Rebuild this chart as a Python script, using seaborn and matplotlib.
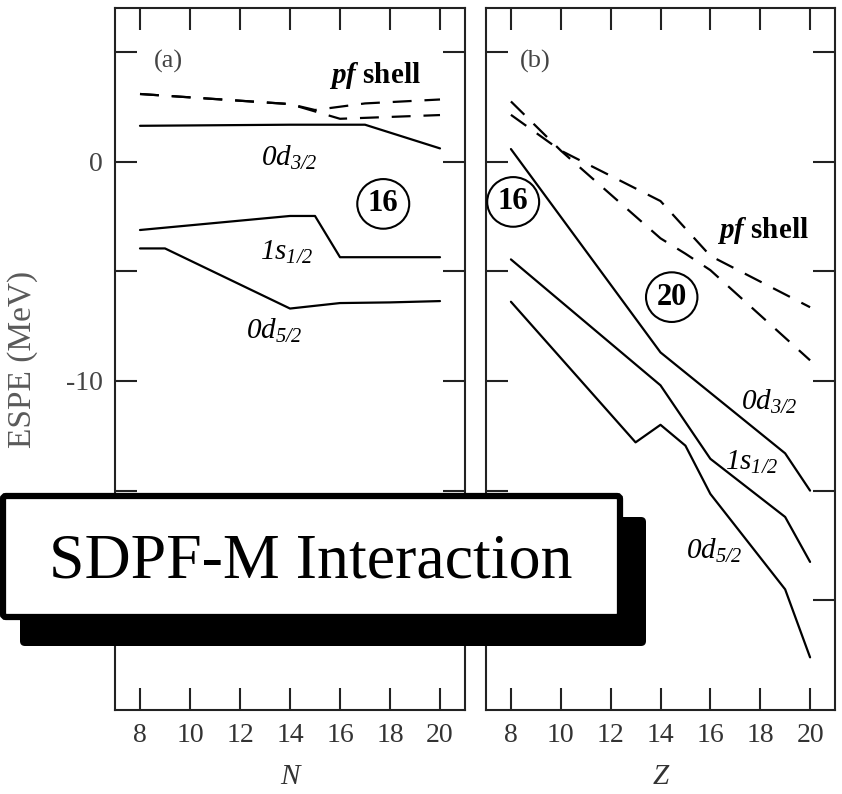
import matplotlib
matplotlib.use("Agg")
import matplotlib.pyplot as plt
import seaborn as sns
import pandas as pd
from matplotlib.patches import FancyBboxPatch

# ---------------- data ----------------
# Panel (a): ESPE vs neutron number N
a_d32_N = [8, 14, 17, 20]
a_d32_E = [1.63, 1.68, 1.68, 0.60]
a_s12_N = [8, 14, 15, 16, 20]
a_s12_E = [-3.12, -2.48, -2.48, -4.36, -4.36]
a_d52_N = [8, 9, 14, 16, 18, 20]
a_d52_E = [-3.96, -3.96, -6.70, -6.45, -6.42, -6.36]
a_pf1_N = [8, 14, 15, 17, 20]
a_pf1_E = [3.08, 2.62, 2.35, 2.65, 2.83]
a_pf2_N = [8, 14, 16, 20]
a_pf2_E = [3.08, 2.62, 1.95, 2.12]

# Panel (b): ESPE vs proton number Z
b_d32_Z = [8, 14, 19, 20]
b_d32_E = [0.57, -8.70, -13.30, -15.00]
b_s12_Z = [8, 14, 16, 19, 20]
b_s12_E = [-4.46, -10.20, -13.55, -16.20, -18.25]
b_d52_Z = [8, 13, 14, 15, 16, 19, 20]
b_d52_E = [-6.39, -12.80, -12.00, -12.95, -15.15, -19.50, -22.60]
b_pf1_Z = [8, 10, 14, 15, 16, 20]
b_pf1_E = [2.74, 0.50, -3.50, -4.20, -4.95, -9.06]
b_pf2_Z = [8, 10, 14, 16, 20]
b_pf2_E = [2.13, 0.50, -1.80, -4.30, -6.64]

x_ticks = [8, 10, 12, 14, 16, 18, 20]
y_major = [-20, -10, 0]
y_minor = [-15, -5, 5]


def build(series):
    rows = []
    for name, kind, xs, es in series:
        for x, e in zip(xs, es):
            rows.append({"x": x, "E": e, "orbital": name, "kind": kind})
    return pd.DataFrame(rows)


df_a = build([
    ("0d3/2", "sd", a_d32_N, a_d32_E),
    ("1s1/2", "sd", a_s12_N, a_s12_E),
    ("0d5/2", "sd", a_d52_N, a_d52_E),
    ("pf1", "pf", a_pf1_N, a_pf1_E),
    ("pf2", "pf", a_pf2_N, a_pf2_E),
])
df_b = build([
    ("0d3/2", "sd", b_d32_Z, b_d32_E),
    ("1s1/2", "sd", b_s12_Z, b_s12_E),
    ("0d5/2", "sd", b_d52_Z, b_d52_E),
    ("pf1", "pf", b_pf1_Z, b_pf1_E),
    ("pf2", "pf", b_pf2_Z, b_pf2_E),
])

# ---------------- style ----------------
sns.set_theme(style="ticks")
plt.rcParams["font.family"] = ["Liberation Serif", "DejaVu Serif"]
plt.rcParams["mathtext.fontset"] = "custom"
plt.rcParams["mathtext.rm"] = "Liberation Serif:italic"
plt.rcParams["mathtext.it"] = "Liberation Serif:italic"
plt.rcParams["mathtext.bf"] = "Liberation Serif:bold"
plt.rcParams["mathtext.bfit"] = "Liberation Serif:italic:bold"

fig = plt.figure(figsize=(8.42, 7.94), dpi=100)
ax_a = fig.add_axes([115 / 842, 1 - 710 / 794, 350 / 842, 702 / 794])
ax_b = fig.add_axes([486 / 842, 1 - 710 / 794, 349 / 842, 702 / 794])

for ax, df in ((ax_a, df_a), (ax_b, df_b)):
    sns.lineplot(data=df, x="x", y="E", units="orbital", estimator=None,
                 style="kind", dashes={"sd": "", "pf": (8.5, 5.8)},
                 color="black", linewidth=1.6, legend=False, ax=ax)
    ax.set_xlim(7, 21)
    ax.set_ylim(-25, 7)
    ax.set_xticks(x_ticks)
    ax.set_yticks(y_major)
    ax.set_yticks(y_minor, minor=True)
    ax.tick_params(axis="both", which="both", direction="in", length=16,
                   width=1.5, top=True, right=True, color="#222222")
    ax.tick_params(axis="x", labelsize=20, pad=9, labelcolor="#333333")
    ax.tick_params(axis="y", labelsize=20, pad=9, labelcolor="#444444")
    for s in ax.spines.values():
        s.set_linewidth(1.5)
        s.set_color("#222222")
    ax.set_ylabel("")
    ax.set_facecolor("white")

ax_a.set_xticklabels([str(t) for t in x_ticks])
ax_b.set_xticklabels([str(t) for t in x_ticks])
ax_a.set_yticklabels([str(t) for t in y_major])
ax_b.tick_params(axis="y", labelleft=False)

ax_a.set_xlabel("N", fontsize=21, fontstyle="italic", color="#333333", labelpad=12)
ax_b.set_xlabel("Z", fontsize=21, fontstyle="italic", color="#333333", labelpad=12)
ax_a.set_ylabel("ESPE (MeV)", fontsize=24, color="#5a5a5a", labelpad=20)

# ---------------- annotations ----------------
lab = dict(ha="center", va="center", color="black")
circ = dict(boxstyle="ellipse,pad=0.1", fc="none", ec="black", lw=1.5)

ax_a.text(9.12, 4.55, "(a)", fontsize=19, color="#444444", ha="center", va="center")
ax_a.text(17.41, 3.91, r"$\mathbfit{pf}$ shell", fontsize=21, fontweight="bold", **lab)
ax_a.text(13.98, 0.17, r"$0d_{3/2}$", fontsize=21, **lab)
ax_a.text(17.73, -1.93, "16", fontsize=22, fontweight="bold", bbox=circ, **lab)
ax_a.text(13.86, -4.12, r"$1s_{1/2}$", fontsize=21, **lab)
ax_a.text(13.38, -7.73, r"$0d_{5/2}$", fontsize=21, **lab)

ax_b.text(8.97, 4.55, "(b)", fontsize=19, color="#444444", ha="center", va="center")
ax_b.text(18.09, -3.12, r"$\mathbfit{pf}$ shell", fontsize=21, fontweight="bold", **lab)
ax_b.text(8.09, -1.84, "16", fontsize=22, fontweight="bold", bbox=circ, **lab)
ax_b.text(14.45, -6.18, "20", fontsize=22, fontweight="bold", bbox=circ, **lab)
ax_b.text(18.37, -10.97, r"$0d_{3/2}$", fontsize=21, **lab)
ax_b.text(17.65, -13.71, r"$1s_{1/2}$", fontsize=21, **lab)
ax_b.text(16.17, -17.73, r"$0d_{5/2}$", fontsize=21, **lab)

# ---------------- "SDPF-M Interaction" banner ----------------
T = fig.dpi_scale_trans
shadow = FancyBboxPatch((0.20, 1.48), 6.26, 1.29,
                        boxstyle="round,pad=0,rounding_size=0.05",
                        fc="black", ec="none", transform=T, zorder=10)
box = FancyBboxPatch((0.03, 1.77), 6.17, 1.21,
                     boxstyle="round,pad=0,rounding_size=0.03",
                     fc="white", ec="black", lw=4.5, transform=T, zorder=11)
fig.patches.extend([shadow, box])
fig.text(311 / 842, 1 - 577 / 794, "SDPF-M Interaction", fontsize=46,
         ha="center", va="baseline", color="black", zorder=12)

fig.savefig("out.png", dpi=100, facecolor="white")
